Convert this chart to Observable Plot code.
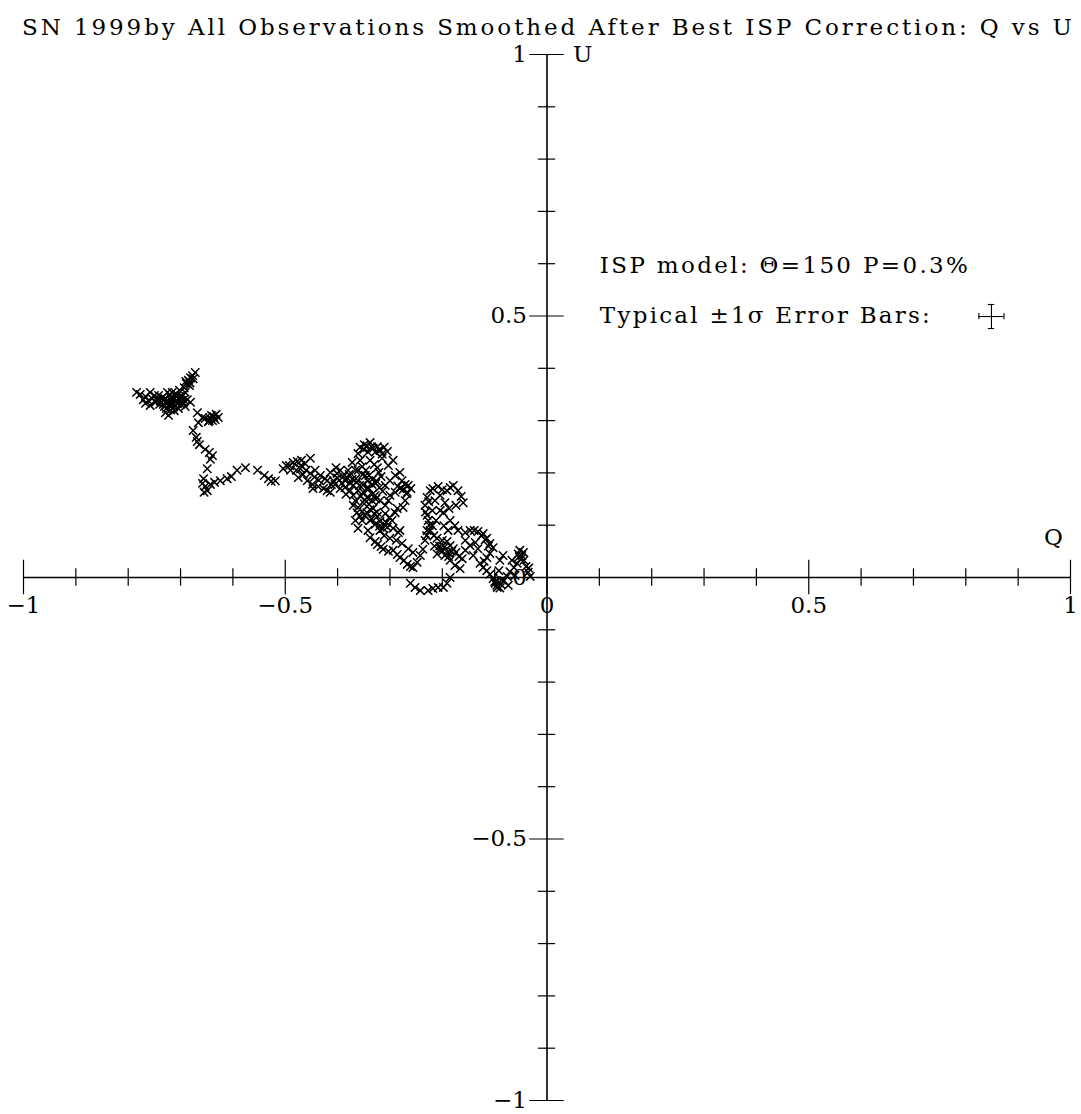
<!DOCTYPE html>
<html>
<head>
<meta charset="utf-8">
<script src="https://cdn.jsdelivr.net/npm/d3@7"></script>
<script src="https://cdn.jsdelivr.net/npm/@observablehq/plot@0.6"></script>
<style>
  html, body { margin: 0; padding: 0; background: #fff; }
  #chart svg { display: block; }
</style>
</head>
<body>
<div id="chart"></div>
<script>
// Smoothed Stokes parameters (Q, U) for SN 1999by after ISP correction
const Q = [
  -0.784,-0.777,-0.767,-0.761,-0.767,-0.758,-0.754,-0.748,-0.758,-0.742,-0.739,-0.733,-0.729,-0.725,-0.729,-0.723,
  -0.723,-0.719,-0.716,-0.714,-0.710,-0.708,-0.704,-0.700,-0.697,-0.702,-0.693,-0.689,-0.685,-0.681,-0.677,-0.672,
  -0.676,-0.683,-0.691,-0.687,-0.681,-0.691,-0.704,-0.712,-0.718,-0.727,-0.708,-0.721,-0.735,-0.716,-0.698,-0.695,
  -0.668,-0.666,-0.658,-0.653,-0.647,-0.643,-0.637,-0.632,-0.639,-0.676,-0.670,-0.668,-0.664,-0.653,-0.645,-0.639,
  -0.643,-0.649,-0.656,-0.658,-0.653,-0.649,-0.655,-0.643,-0.635,-0.624,-0.611,-0.603,-0.592,-0.576,-0.553,-0.540,
  -0.532,-0.527,-0.519,-0.504,-0.492,-0.485,-0.477,-0.469,-0.462,-0.452,-0.479,-0.475,-0.466,-0.458,-0.448,-0.447,
  -0.437,-0.427,-0.420,-0.414,-0.408,-0.401,-0.403,-0.395,-0.389,-0.382,-0.376,-0.370,-0.365,-0.361,-0.353,-0.357,
  -0.361,-0.357,-0.349,-0.344,-0.338,-0.332,-0.324,-0.319,-0.311,-0.305,-0.338,-0.330,-0.324,-0.321,-0.317,-0.326,
  -0.334,-0.345,-0.351,-0.344,-0.349,-0.361,-0.363,-0.357,-0.366,-0.361,-0.353,-0.344,-0.338,-0.330,-0.324,-0.319,
  -0.311,-0.305,-0.294,-0.284,-0.281,-0.290,-0.286,-0.275,-0.271,-0.267,-0.271,-0.277,-0.265,-0.260,-0.281,-0.290,
  -0.300,-0.303,-0.309,-0.319,-0.328,-0.334,-0.338,-0.342,-0.338,-0.328,-0.324,-0.317,-0.313,-0.303,-0.294,-0.286,
  -0.281,-0.273,-0.267,-0.261,-0.256,-0.248,-0.242,-0.237,-0.233,-0.229,-0.227,-0.229,-0.233,-0.229,-0.223,-0.218,
  -0.208,-0.200,-0.191,-0.185,-0.179,-0.170,-0.164,-0.160,-0.174,-0.187,-0.198,-0.204,-0.212,-0.219,-0.223,-0.216,
  -0.210,-0.200,-0.191,-0.185,-0.179,-0.174,-0.168,-0.162,-0.156,-0.156,-0.156,-0.147,-0.139,-0.132,-0.122,-0.115,
  -0.109,-0.103,-0.109,-0.115,-0.120,-0.128,-0.122,-0.115,-0.109,-0.103,-0.099,-0.095,-0.088,-0.082,-0.076,-0.071,
  -0.063,-0.057,-0.053,-0.052,-0.048,-0.044,-0.040,-0.036,-0.032,
  -0.261,-0.252,-0.242,-0.227,-0.218,-0.208,-0.198,-0.191,-0.185,
  -0.490,-0.471,-0.443,-0.433,-0.424,-0.414,-0.405,-0.395,-0.385,-0.380,-0.372,-0.366,-0.376,-0.384,-0.370,-0.366,
  -0.370,-0.347,-0.342,-0.351,-0.361,-0.309,-0.300,-0.290,-0.281,-0.303,-0.294,-0.315,-0.309,-0.301,-0.296,-0.319,
  -0.311,-0.300,-0.288,-0.277,-0.265,-0.256,-0.219,-0.214,-0.204,-0.195,-0.185,-0.176,-0.170,-0.189,-0.197,-0.204,
  -0.195,-0.185,-0.176,-0.166,-0.147,-0.137,-0.132,-0.141,-0.090,-0.084,-0.092,-0.067,-0.061,-0.074,-0.097,
  -0.745,-0.737,-0.731,-0.727,-0.722,-0.717,-0.712,-0.706,-0.701,-0.713,-0.731,-0.740,-0.719,-0.709,-0.700,-0.694,
  -0.750,-0.771,-0.690,-0.682,-0.641,-0.634,-0.628,-0.645,
  -0.420,-0.412,-0.400,-0.392,-0.386,-0.378,-0.372,-0.364,-0.358,-0.352,-0.346,-0.340,-0.333,-0.327,-0.320,-0.314,
  -0.340,-0.333,-0.327,-0.356,-0.348,-0.340,-0.332,-0.325,-0.335,-0.328,-0.320,-0.313,-0.307,-0.348,-0.353,-0.460,
  -0.452,-0.444,-0.436,-0.470,-0.498,
  -0.350,-0.342,-0.335,-0.328,-0.315,-0.320,-0.285,-0.275,-0.268,
  -0.205,-0.200,-0.196,-0.190,-0.188,-0.182,-0.210,-0.215,-0.226,-0.232,-0.225,-0.230,
  -0.100,-0.096,-0.092,-0.090,-0.087,-0.055,-0.050,-0.045,-0.035,-0.125,-0.118,-0.112
];
const U = [
  0.354,0.350,0.346,0.338,0.333,0.329,0.342,0.335,0.354,0.348,0.338,0.331,0.342,0.354,0.315,0.310,
  0.337,0.344,0.333,0.340,0.348,0.337,0.342,0.331,0.346,0.358,0.363,0.371,0.377,0.382,0.386,0.392,
  0.380,0.367,0.354,0.340,0.335,0.327,0.323,0.319,0.329,0.323,0.346,0.350,0.344,0.354,0.338,0.333,
  0.315,0.296,0.306,0.304,0.298,0.304,0.308,0.312,0.300,0.281,0.268,0.260,0.254,0.245,0.239,0.233,
  0.226,0.208,0.189,0.180,0.174,0.166,0.163,0.178,0.182,0.185,0.189,0.193,0.205,0.210,0.205,0.195,
  0.189,0.184,0.185,0.208,0.214,0.220,0.222,0.224,0.218,0.228,0.205,0.191,0.197,0.185,0.178,0.170,
  0.174,0.170,0.166,0.163,0.185,0.199,0.210,0.205,0.193,0.191,0.180,0.176,0.189,0.205,0.212,0.224,
  0.237,0.249,0.254,0.252,0.258,0.247,0.250,0.243,0.249,0.241,0.224,0.216,0.210,0.201,0.193,0.185,
  0.178,0.170,0.163,0.153,0.141,0.134,0.124,0.117,0.109,0.094,0.109,0.124,0.130,0.122,0.117,0.107,
  0.101,0.096,0.094,0.086,0.090,0.124,0.132,0.134,0.147,0.163,0.178,0.185,0.176,0.170,0.170,0.163,
  0.157,0.147,0.138,0.147,0.157,0.147,0.109,0.090,0.076,0.069,0.063,0.059,0.054,0.050,0.052,0.044,
  0.038,0.033,0.025,0.021,0.019,0.029,0.042,0.054,0.071,0.090,0.109,0.119,0.138,0.153,0.166,0.170,
  0.174,0.168,0.166,0.172,0.176,0.166,0.155,0.143,0.138,0.132,0.124,0.128,0.109,0.099,0.090,0.080,
  0.075,0.071,0.069,0.061,0.055,0.048,0.040,0.036,0.052,0.071,0.086,0.090,0.090,0.088,0.084,0.075,
  0.065,0.057,0.046,0.038,0.031,0.027,0.019,0.013,0.006,-0.002,-0.011,-0.019,-0.013,-0.006,0.002,0.011,
  0.019,0.027,0.040,0.052,0.042,0.033,0.021,0.010,0.002,
  -0.011,-0.019,-0.025,-0.025,-0.021,-0.019,-0.019,-0.011,0.000,
  0.205,0.208,0.205,0.195,0.189,0.201,0.178,0.170,0.185,0.205,0.220,0.205,0.166,0.159,0.157,0.147,
  0.138,0.195,0.185,0.178,0.166,0.176,0.185,0.195,0.201,0.214,0.224,0.228,0.122,0.115,0.109,0.090,
  0.080,0.075,0.071,0.065,0.055,0.048,0.128,0.147,0.157,0.143,0.109,0.099,0.090,0.090,0.099,0.055,
  0.042,0.033,0.023,0.017,0.061,0.067,0.055,0.042,0.033,0.042,0.013,0.033,0.004,-0.015,-0.006,
  0.340,0.336,0.340,0.333,0.329,0.337,0.343,0.332,0.340,0.326,0.327,0.331,0.320,0.352,0.347,0.340,
  0.348,0.340,0.375,0.372,0.310,0.302,0.306,0.300,
  0.185,0.178,0.190,0.180,0.172,0.197,0.188,0.182,0.176,0.197,0.205,0.195,0.188,0.180,0.172,0.165,
  0.170,0.160,0.150,0.155,0.148,0.140,0.132,0.125,0.112,0.102,0.098,0.094,0.105,0.118,0.126,0.205,
  0.199,0.192,0.186,0.214,0.214,
  0.245,0.240,0.250,0.240,0.236,0.245,0.175,0.168,0.160,
  0.060,0.050,0.058,0.048,0.040,0.050,0.045,0.060,0.145,0.125,0.100,0.080,
  -0.008,-0.015,-0.010,-0.020,-0.005,0.045,0.035,0.048,0.018,0.080,0.072,0.060
];

// Axis ticks and labels
const majorTicks = [-1, -0.5, 0, 0.5, 1];
const minorTicks = [-0.9, -0.8, -0.7, -0.6, -0.4, -0.3, -0.2, -0.1, 0.1, 0.2, 0.3, 0.4, 0.6, 0.7, 0.8, 0.9];
const tickLabels = ["\u22121", "\u22120.5", "0", "0.5", "1"];

// Interstellar polarization model and typical error bar
const titleText = "SN 1999by All Observations Smoothed After Best ISP Correction: Q vs U";
const ispModel = "ISP model: \u0398=150 P=0.3%";
const errorLabel = "Typical \u00b11\u03c3 Error Bars:";
const typicalError = {q: 0.024, u: 0.023};

const points = Q.map((q, i) => ({q, u: U[i]}));
const labelled = majorTicks.map((v, i) => ({v, label: tickLabels[i]}));

const font = {fontFamily: "DejaVu Serif", fontSize: 23, fill: "black"};
const minorLen = 0.0165, majorLen = 0.033;
const errCenter = {q: 0.849, u: 0.499};
const capLen = 0.006;

const chart = Plot.plot({
  width: 1081,
  height: 1114,
  marginLeft: 23,
  marginRight: 11,
  marginTop: 54,
  marginBottom: 14,
  x: {domain: [-1, 1], axis: null},
  y: {domain: [-1, 1], axis: null},
  marks: [
    // axes through the origin
    Plot.ruleY([0], {stroke: "black", strokeWidth: 1.6}),
    Plot.ruleX([0], {stroke: "black", strokeWidth: 1.6}),
    // ticks on the Q axis
    Plot.ruleX(minorTicks, {x: d => d, y1: -minorLen, y2: minorLen, stroke: "black", strokeWidth: 1.2}),
    Plot.ruleX(majorTicks, {x: d => d, y1: -majorLen, y2: majorLen, stroke: "black", strokeWidth: 1.2}),
    // ticks on the U axis
    Plot.ruleY(minorTicks, {y: d => d, x1: -minorLen, x2: minorLen, stroke: "black", strokeWidth: 1.2}),
    Plot.ruleY(majorTicks, {y: d => d, x1: -majorLen, x2: majorLen, stroke: "black", strokeWidth: 1.2}),
    // tick labels
    Plot.text(labelled, {x: "v", y: 0, dy: 28, text: "label", textAnchor: "middle", ...font}),
    Plot.text(labelled, {x: 0, y: "v", dx: -20, text: "label", textAnchor: "end", ...font}),
    // axis names
    Plot.text(["U"], {x: 0, y: 1, dx: 26, textAnchor: "start", ...font}),
    Plot.text(["Q"], {x: 1, y: 0, dx: -17, dy: -40, textAnchor: "middle", ...font}),
    // data
    Plot.dot(points, {x: "q", y: "u", symbol: "times", r: 3.9, stroke: "black", strokeWidth: 1.5}),
    // annotations
    Plot.text([ispModel], {x: 0.101, y: 0.596, textAnchor: "start", ...font}),
    Plot.text([errorLabel], {x: 0.101, y: 0.500, textAnchor: "start", ...font}),
    Plot.ruleY([errCenter], {y: "u", x1: d => d.q - typicalError.q, x2: d => d.q + typicalError.q, stroke: "black", strokeWidth: 1.1}),
    Plot.ruleX([errCenter], {x: "q", y1: d => d.u - typicalError.u, y2: d => d.u + typicalError.u, stroke: "black", strokeWidth: 1.1}),
    Plot.ruleX([errCenter], {x: d => d.q - typicalError.q, y1: d => d.u - capLen, y2: d => d.u + capLen, stroke: "black", strokeWidth: 1.1}),
    Plot.ruleX([errCenter], {x: d => d.q + typicalError.q, y1: d => d.u - capLen, y2: d => d.u + capLen, stroke: "black", strokeWidth: 1.1}),
    Plot.ruleY([errCenter], {y: d => d.u - typicalError.u, x1: d => d.q - capLen, x2: d => d.q + capLen, stroke: "black", strokeWidth: 1.1}),
    Plot.ruleY([errCenter], {y: d => d.u + typicalError.u, x1: d => d.q - capLen, x2: d => d.q + capLen, stroke: "black", strokeWidth: 1.1}),
    // title
    Plot.text([titleText], {frameAnchor: "top", dy: -36, textAnchor: "middle", ...font})
  ]
});

// spread the title and the annotation lines to their drawn widths
const textWidths = new Map([[titleText, 1050], [ispModel, 368], [errorLabel, 330]]);
d3.select(chart).selectAll("text")
  .filter(function () { return textWidths.has(this.textContent); })
  .attr("textLength", function () { return textWidths.get(this.textContent); })
  .attr("lengthAdjust", "spacing");

document.getElementById("chart").appendChild(chart);
</script>
</body>
</html>
